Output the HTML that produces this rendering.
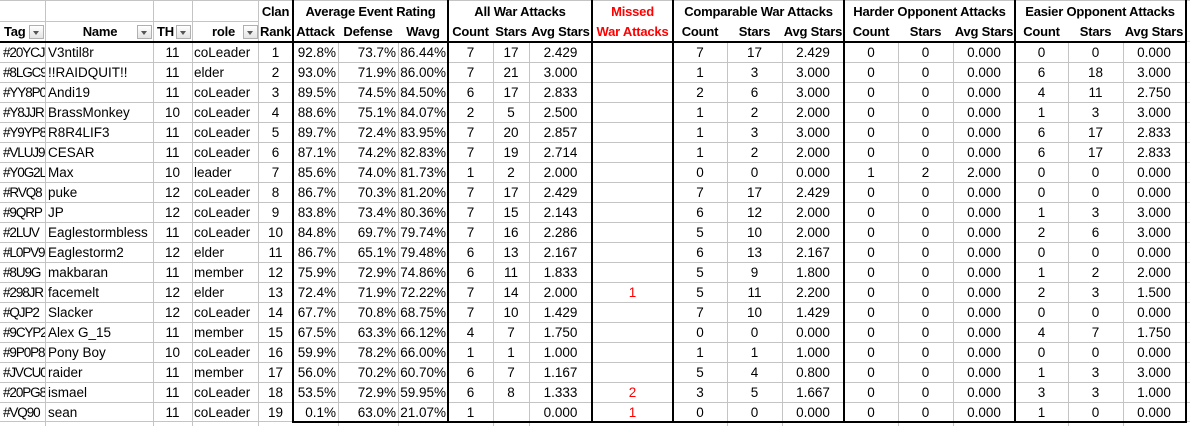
<!DOCTYPE html>
<html><head><meta charset="utf-8">
<style>
html,body{margin:0;padding:0;background:#fff;}
body{width:1190px;height:426px;position:relative;overflow:hidden;font-family:"Liberation Sans",Arial,sans-serif;color:#000;}
.l{position:absolute;background:#c4c4c4;}
.t{position:absolute;background:#000;}
.h{position:absolute;font-weight:bold;font-size:13px;letter-spacing:-0.2px;text-align:center;line-height:20px;height:20px;white-space:nowrap;}
.red{color:#ff0000;}
.fb{position:absolute;top:25px;width:15px;height:14px;border:1px solid #b0b0b0;box-sizing:border-box;background:linear-gradient(#ffffff,#e4e4e4);}
.fb::after{content:"";position:absolute;left:3px;top:5px;border-left:3.5px solid transparent;border-right:3.5px solid transparent;border-top:4px solid #555;}
.r{position:absolute;left:0;height:20px;line-height:20px;display:flex;font-size:13.5px;white-space:nowrap;}
.r span{flex:none;overflow:hidden;text-align:center;box-sizing:border-box;height:20px;}
.r span:nth-child(1){width:45px;text-align:left;padding-left:3px;letter-spacing:-1.1px;}
.r span:nth-child(2){width:108px;text-align:left;padding-left:3px;}
.r span:nth-child(3){width:39px;}
.r span:nth-child(4){width:66px;text-align:left;padding-left:2px;}
.r span:nth-child(5){width:35px;}
.r span:nth-child(6){width:45px;text-align:right;padding-right:2px;}
.r span:nth-child(7){width:60px;text-align:right;padding-right:2px;}
.r span:nth-child(8){width:50px;text-align:right;padding-right:2px;}
.r span:nth-child(9){width:45px;}
.r span:nth-child(10){width:36px;}
.r span:nth-child(11){width:63px;}
.r span:nth-child(12){width:81px;color:#ff0000;}
.r span:nth-child(13){width:54px;}
.r span:nth-child(14){width:55px;}
.r span:nth-child(15){width:62px;}
.r span:nth-child(16){width:54px;}
.r span:nth-child(17){width:55px;}
.r span:nth-child(18){width:62px;}
.r span:nth-child(19){width:53px;}
.r span:nth-child(20){width:55px;}
.r span:nth-child(21){width:62px;}
</style></head><body>

<!-- light horizontal gridlines -->
<div class="l" style="left:0;top:0;width:1190px;height:1px"></div>
<div class="l" style="left:0;top:21px;width:258px;height:1px"></div>
<div class="l" style="left:1186px;top:41px;width:4px;height:1px"></div>
<div class="l" style="left:0;top:62px;width:1190px;height:1px"></div>
<div class="l" style="left:0;top:82px;width:1190px;height:1px"></div>
<div class="l" style="left:0;top:102px;width:1190px;height:1px"></div>
<div class="l" style="left:0;top:122px;width:1190px;height:1px"></div>
<div class="l" style="left:0;top:142px;width:1190px;height:1px"></div>
<div class="l" style="left:0;top:162px;width:1190px;height:1px"></div>
<div class="l" style="left:0;top:182px;width:1190px;height:1px"></div>
<div class="l" style="left:0;top:202px;width:1190px;height:1px"></div>
<div class="l" style="left:0;top:222px;width:1190px;height:1px"></div>
<div class="l" style="left:0;top:242px;width:1190px;height:1px"></div>
<div class="l" style="left:0;top:262px;width:1190px;height:1px"></div>
<div class="l" style="left:0;top:282px;width:1190px;height:1px"></div>
<div class="l" style="left:0;top:302px;width:1190px;height:1px"></div>
<div class="l" style="left:0;top:322px;width:1190px;height:1px"></div>
<div class="l" style="left:0;top:342px;width:1190px;height:1px"></div>
<div class="l" style="left:0;top:362px;width:1190px;height:1px"></div>
<div class="l" style="left:0;top:382px;width:1190px;height:1px"></div>
<div class="l" style="left:0;top:402px;width:1190px;height:1px"></div>
<div class="l" style="left:0;top:421px;width:1190px;height:1px"></div>

<!-- light vertical gridlines: full height for left columns -->
<div class="l" style="left:45px;top:0;width:1px;height:426px"></div>
<div class="l" style="left:153px;top:0;width:1px;height:426px"></div>
<div class="l" style="left:192px;top:0;width:1px;height:426px"></div>
<div class="l" style="left:258px;top:0;width:1px;height:426px"></div>
<!-- data-only verticals -->
<div class="l" style="left:338px;top:42px;width:1px;height:384px"></div>
<div class="l" style="left:398px;top:42px;width:1px;height:384px"></div>
<div class="l" style="left:493px;top:42px;width:1px;height:384px"></div>
<div class="l" style="left:529px;top:42px;width:1px;height:384px"></div>
<div class="l" style="left:727px;top:42px;width:1px;height:384px"></div>
<div class="l" style="left:782px;top:42px;width:1px;height:384px"></div>
<div class="l" style="left:898px;top:42px;width:1px;height:384px"></div>
<div class="l" style="left:953px;top:42px;width:1px;height:384px"></div>
<div class="l" style="left:1068px;top:42px;width:1px;height:384px"></div>
<div class="l" style="left:1123px;top:42px;width:1px;height:384px"></div>

<!-- thick lines -->
<div class="t" style="left:0;top:41px;width:1187px;height:2px"></div>
<div class="t" style="left:292px;top:421px;width:895px;height:2px"></div>
<div class="t" style="left:292px;top:0;width:2px;height:423px"></div>
<div class="t" style="left:447px;top:0;width:2px;height:423px"></div>
<div class="t" style="left:591px;top:0;width:2px;height:423px"></div>
<div class="t" style="left:672px;top:0;width:2px;height:423px"></div>
<div class="t" style="left:843px;top:0;width:2px;height:423px"></div>
<div class="t" style="left:1014px;top:0;width:2px;height:423px"></div>
<div class="t" style="left:1185px;top:0;width:2px;height:423px"></div>

<!-- header row 1 -->
<div class="h" style="left:258px;top:2px;width:35px">Clan</div>
<div class="h" style="left:293px;top:2px;width:155px">Average Event Rating</div>
<div class="h" style="left:448px;top:2px;width:144px">All War Attacks</div>
<div class="h red" style="left:592px;top:2px;width:81px">Missed</div>
<div class="h" style="left:673px;top:2px;width:171px">Comparable War Attacks</div>
<div class="h" style="left:844px;top:2px;width:171px">Harder Opponent Attacks</div>
<div class="h" style="left:1015px;top:2px;width:170px">Easier Opponent Attacks</div>

<!-- header row 2 -->
<div class="h" style="left:4px;top:22px;text-align:left">Tag</div>
<div class="h" style="left:45px;top:22px;width:110px">Name</div>
<div class="h" style="left:157px;top:22px;text-align:left">TH</div>
<div class="h" style="left:212px;top:22px;text-align:left">role</div>
<div class="h" style="left:258px;top:22px;width:35px">Rank</div>
<div class="h" style="left:293px;top:22px;width:45px">Attack</div>
<div class="h" style="left:338px;top:22px;width:60px">Defense</div>
<div class="h" style="left:398px;top:22px;width:50px">Wavg</div>
<div class="h" style="left:448px;top:22px;width:45px">Count</div>
<div class="h" style="left:493px;top:22px;width:36px">Stars</div>
<div class="h" style="left:529px;top:22px;width:63px">Avg Stars</div>
<div class="h red" style="left:592px;top:22px;width:81px">War Attacks</div>
<div class="h" style="left:673px;top:22px;width:54px">Count</div>
<div class="h" style="left:727px;top:22px;width:55px">Stars</div>
<div class="h" style="left:782px;top:22px;width:62px">Avg Stars</div>
<div class="h" style="left:844px;top:22px;width:54px">Count</div>
<div class="h" style="left:898px;top:22px;width:55px">Stars</div>
<div class="h" style="left:953px;top:22px;width:62px">Avg Stars</div>
<div class="h" style="left:1015px;top:22px;width:53px">Count</div>
<div class="h" style="left:1068px;top:22px;width:55px">Stars</div>
<div class="h" style="left:1123px;top:22px;width:62px">Avg Stars</div>

<!-- filter buttons -->
<div class="fb" style="left:29px"></div>
<div class="fb" style="left:137px"></div>
<div class="fb" style="left:176px"></div>
<div class="fb" style="left:243px"></div>

<!-- data rows -->
<div class="r" style="top:43px"><span>#20YCJ</span><span>V3ntil8r</span><span>11</span><span>coLeader</span><span>1</span><span>92.8%</span><span>73.7%</span><span>86.44%</span><span>7</span><span>17</span><span>2.429</span><span></span><span>7</span><span>17</span><span>2.429</span><span>0</span><span>0</span><span>0.000</span><span>0</span><span>0</span><span>0.000</span></div>
<div class="r" style="top:63px"><span>#8LGC9</span><span>!!RAIDQUIT!!</span><span>11</span><span>elder</span><span>2</span><span>93.0%</span><span>71.9%</span><span>86.00%</span><span>7</span><span>21</span><span>3.000</span><span></span><span>1</span><span>3</span><span>3.000</span><span>0</span><span>0</span><span>0.000</span><span>6</span><span>18</span><span>3.000</span></div>
<div class="r" style="top:83px"><span>#YY8P0</span><span>Andi19</span><span>11</span><span>coLeader</span><span>3</span><span>89.5%</span><span>74.5%</span><span>84.50%</span><span>6</span><span>17</span><span>2.833</span><span></span><span>2</span><span>6</span><span>3.000</span><span>0</span><span>0</span><span>0.000</span><span>4</span><span>11</span><span>2.750</span></div>
<div class="r" style="top:103px"><span>#Y8JJR</span><span>BrassMonkey</span><span>10</span><span>coLeader</span><span>4</span><span>88.6%</span><span>75.1%</span><span>84.07%</span><span>2</span><span>5</span><span>2.500</span><span></span><span>1</span><span>2</span><span>2.000</span><span>0</span><span>0</span><span>0.000</span><span>1</span><span>3</span><span>3.000</span></div>
<div class="r" style="top:123px"><span>#Y9YP8</span><span>R8R4LIF3</span><span>11</span><span>coLeader</span><span>5</span><span>89.7%</span><span>72.4%</span><span>83.95%</span><span>7</span><span>20</span><span>2.857</span><span></span><span>1</span><span>3</span><span>3.000</span><span>0</span><span>0</span><span>0.000</span><span>6</span><span>17</span><span>2.833</span></div>
<div class="r" style="top:143px"><span>#VLUJ9</span><span>CESAR</span><span>11</span><span>coLeader</span><span>6</span><span>87.1%</span><span>74.2%</span><span>82.83%</span><span>7</span><span>19</span><span>2.714</span><span></span><span>1</span><span>2</span><span>2.000</span><span>0</span><span>0</span><span>0.000</span><span>6</span><span>17</span><span>2.833</span></div>
<div class="r" style="top:163px"><span>#Y0G2L</span><span>Max</span><span>10</span><span>leader</span><span>7</span><span>85.6%</span><span>74.0%</span><span>81.73%</span><span>1</span><span>2</span><span>2.000</span><span></span><span>0</span><span>0</span><span>0.000</span><span>1</span><span>2</span><span>2.000</span><span>0</span><span>0</span><span>0.000</span></div>
<div class="r" style="top:183px"><span>#RVQ8</span><span>puke</span><span>12</span><span>coLeader</span><span>8</span><span>86.7%</span><span>70.3%</span><span>81.20%</span><span>7</span><span>17</span><span>2.429</span><span></span><span>7</span><span>17</span><span>2.429</span><span>0</span><span>0</span><span>0.000</span><span>0</span><span>0</span><span>0.000</span></div>
<div class="r" style="top:203px"><span>#9QRP</span><span>JP</span><span>12</span><span>coLeader</span><span>9</span><span>83.8%</span><span>73.4%</span><span>80.36%</span><span>7</span><span>15</span><span>2.143</span><span></span><span>6</span><span>12</span><span>2.000</span><span>0</span><span>0</span><span>0.000</span><span>1</span><span>3</span><span>3.000</span></div>
<div class="r" style="top:223px"><span>#2LUV</span><span>Eaglestormbless</span><span>11</span><span>coLeader</span><span>10</span><span>84.8%</span><span>69.7%</span><span>79.74%</span><span>7</span><span>16</span><span>2.286</span><span></span><span>5</span><span>10</span><span>2.000</span><span>0</span><span>0</span><span>0.000</span><span>2</span><span>6</span><span>3.000</span></div>
<div class="r" style="top:243px"><span>#L0PV9</span><span>Eaglestorm2</span><span>12</span><span>elder</span><span>11</span><span>86.7%</span><span>65.1%</span><span>79.48%</span><span>6</span><span>13</span><span>2.167</span><span></span><span>6</span><span>13</span><span>2.167</span><span>0</span><span>0</span><span>0.000</span><span>0</span><span>0</span><span>0.000</span></div>
<div class="r" style="top:263px"><span>#8U9G</span><span>makbaran</span><span>11</span><span>member</span><span>12</span><span>75.9%</span><span>72.9%</span><span>74.86%</span><span>6</span><span>11</span><span>1.833</span><span></span><span>5</span><span>9</span><span>1.800</span><span>0</span><span>0</span><span>0.000</span><span>1</span><span>2</span><span>2.000</span></div>
<div class="r" style="top:283px"><span>#298JR</span><span>facemelt</span><span>12</span><span>elder</span><span>13</span><span>72.4%</span><span>71.9%</span><span>72.22%</span><span>7</span><span>14</span><span>2.000</span><span>1</span><span>5</span><span>11</span><span>2.200</span><span>0</span><span>0</span><span>0.000</span><span>2</span><span>3</span><span>1.500</span></div>
<div class="r" style="top:303px"><span>#QJP2</span><span>Slacker</span><span>12</span><span>coLeader</span><span>14</span><span>67.7%</span><span>70.8%</span><span>68.75%</span><span>7</span><span>10</span><span>1.429</span><span></span><span>7</span><span>10</span><span>1.429</span><span>0</span><span>0</span><span>0.000</span><span>0</span><span>0</span><span>0.000</span></div>
<div class="r" style="top:323px"><span>#9CYP2</span><span>Alex G_15</span><span>11</span><span>member</span><span>15</span><span>67.5%</span><span>63.3%</span><span>66.12%</span><span>4</span><span>7</span><span>1.750</span><span></span><span>0</span><span>0</span><span>0.000</span><span>0</span><span>0</span><span>0.000</span><span>4</span><span>7</span><span>1.750</span></div>
<div class="r" style="top:343px"><span>#9P0P8</span><span>Pony Boy</span><span>10</span><span>coLeader</span><span>16</span><span>59.9%</span><span>78.2%</span><span>66.00%</span><span>1</span><span>1</span><span>1.000</span><span></span><span>1</span><span>1</span><span>1.000</span><span>0</span><span>0</span><span>0.000</span><span>0</span><span>0</span><span>0.000</span></div>
<div class="r" style="top:363px"><span>#JVCU0</span><span>raider</span><span>11</span><span>member</span><span>17</span><span>56.0%</span><span>70.2%</span><span>60.70%</span><span>6</span><span>7</span><span>1.167</span><span></span><span>5</span><span>4</span><span>0.800</span><span>0</span><span>0</span><span>0.000</span><span>1</span><span>3</span><span>3.000</span></div>
<div class="r" style="top:383px"><span>#20PG8</span><span>ismael</span><span>11</span><span>coLeader</span><span>18</span><span>53.5%</span><span>72.9%</span><span>59.95%</span><span>6</span><span>8</span><span>1.333</span><span>2</span><span>3</span><span>5</span><span>1.667</span><span>0</span><span>0</span><span>0.000</span><span>3</span><span>3</span><span>1.000</span></div>
<div class="r" style="top:403px"><span>#VQ90</span><span>sean</span><span>11</span><span>coLeader</span><span>19</span><span>0.1%</span><span>63.0%</span><span>21.07%</span><span>1</span><span></span><span>0.000</span><span>1</span><span>0</span><span>0</span><span>0.000</span><span>0</span><span>0</span><span>0.000</span><span>1</span><span>0</span><span>0.000</span></div>

</body></html>
